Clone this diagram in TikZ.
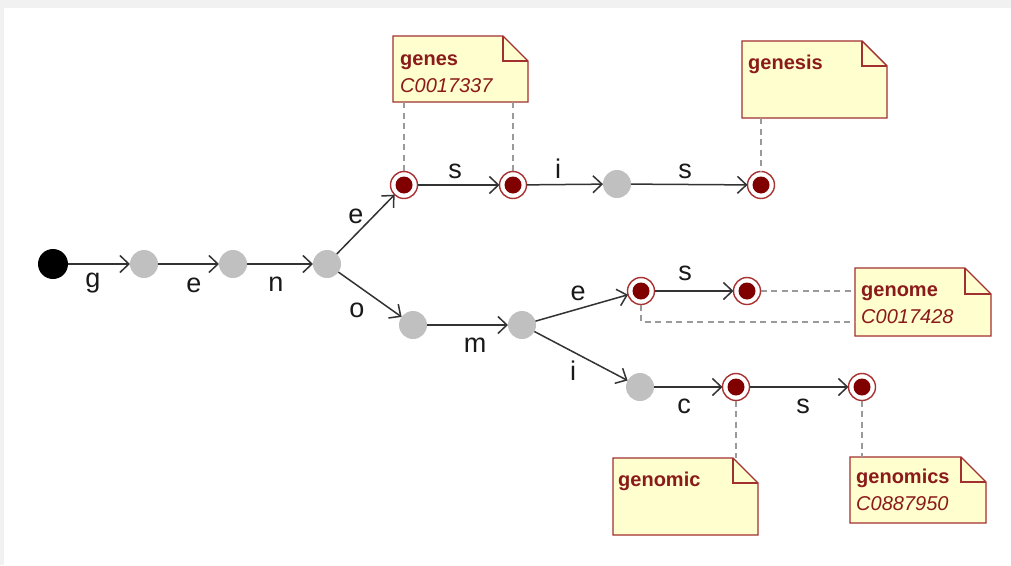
\documentclass[tikz,border=0pt]{standalone}
\usepackage{fontspec}
\setmainfont{Liberation Sans}
\usetikzlibrary{arrows.meta}
\definecolor{notefill}{HTML}{FEFECE}
\definecolor{notebord}{HTML}{A33030}
\definecolor{notetext}{HTML}{8B1A1A}
\definecolor{dotc}{HTML}{800000}
\definecolor{ringc}{HTML}{A83232}
\definecolor{grayn}{HTML}{C0C0C0}
\definecolor{edgec}{HTML}{333333}
\definecolor{dashcol}{HTML}{9A9A9A}
\definecolor{framec}{HTML}{F1F1F1}
\tikzset{
  startn/.style={circle, fill=black, minimum size=30pt, inner sep=0pt, outer sep=0pt},
  grayst/.style={circle, fill=grayn, minimum size=28pt, inner sep=0pt, outer sep=0pt},
  finalst/.style={circle, draw=ringc, line width=1.4pt, fill=white, minimum size=27pt, inner sep=0pt, outer sep=0pt,
    path picture={\fill[dotc] (path picture bounding box.center) circle (8.5pt);}},
  trans/.style={draw=edgec, line width=1.5pt, -{Straight Barb[length=9pt,width=17pt,line width=1.5pt]}},
  lbl/.style={anchor=base, inner sep=0pt, text=black!90, font=\fontsize{27}{31}\selectfont},
  notebg/.style={rectangle, inner sep=0pt, outer sep=0pt},
  noteline/.style={fill=notefill, draw=notebord, line width=1.4pt, line join=miter},
  notetitle/.style={anchor=base west, inner sep=0pt, text=notetext, font=\fontsize{20}{24}\selectfont\bfseries},
  noteid/.style={anchor=base west, inner sep=0pt, text=notetext, font=\fontsize{20}{24}\selectfont\itshape},
  dashc/.style={draw=dashcol, line width=1.2pt, dash pattern=on 6pt off 4.5pt}
}
\newcommand\drawnote[2]{%
  \filldraw[noteline] (#1.north west) -- ([xshift=-#2]#1.north east) -- ([yshift=-#2]#1.north east) -- (#1.south east) -- (#1.south west) -- cycle;
  \draw[noteline, fill=none] ([xshift=-#2]#1.north east) |- ([yshift=-#2]#1.north east);}
\begin{document}
\begin{tikzpicture}[x=1pt, y=-1pt]
\useasboundingbox (0,0) rectangle (1011,565);
\fill[framec] (0,0) rectangle (1011,565);
\fill[white] (4,8) rectangle (1011,565);

% states
\node[startn] (s0) at (53,264) {};
\node[grayst] (g1) at (144,264) {};
\node[grayst] (g2) at (233,264) {};
\node[grayst] (g3) at (327,264) {};
\node[finalst] (f1) at (404,185) {};
\node[finalst] (f2) at (513,185) {};
\node[grayst] (g4) at (617,184) {};
\node[finalst] (f3) at (761,185) {};
\node[grayst] (g5) at (413,325) {};
\node[grayst] (g6) at (522,325) {};
\node[finalst] (f4) at (641,291) {};
\node[finalst] (f5) at (747,291) {};
\node[grayst] (g7) at (640,387) {};
\node[finalst] (f6) at (736,387) {};
\node[finalst] (f7) at (862,387) {};

% notes
\node[notebg, minimum width=135pt, minimum height=66pt] (ngenes) at (460.5,69) {};
\node[notebg, minimum width=145pt, minimum height=77pt] (ngenesis) at (814.5,79.5) {};
\node[notebg, minimum width=136pt, minimum height=68pt] (ngenome) at (923,302) {};
\node[notebg, minimum width=145pt, minimum height=77pt] (ngenomic) at (685.5,496.5) {};
\node[notebg, minimum width=136pt, minimum height=66pt] (ngenomics) at (918,490) {};
\drawnote{ngenes}{25pt}
\drawnote{ngenesis}{25pt}
\drawnote{ngenome}{26pt}
\drawnote{ngenomic}{25pt}
\drawnote{ngenomics}{25pt}

\node[notetitle] (tgenes) at (400,65) {genes};
\node[noteid] (igenes) at (400,92) {C0017337};
\node[notetitle] (tgenesis) at (748,69) {genesis};
\node[notetitle] (tgenome) at (861,296) {genome};
\node[noteid] (igenome) at (861,323) {C0017428};
\node[notetitle] (tgenomic) at (618,486) {genomic};
\node[notetitle] (tgenomics) at (856,483) {genomics};
\node[noteid] (igenomics) at (856,510) {C0887950};

% note connectors
\coordinate (gj) at (855,322);
\draw[dashc] (ngenes.south -| f1) -- (f1);
\draw[dashc] (ngenes.south -| f2) -- (f2);
\draw[dashc] (ngenesis.south -| f3) -- (f3);
\draw[dashc] (f5) -- (ngenome.west |- f5);
\draw[dashc] (f4) |- (gj);
\draw[dashc] (f6) -- (ngenomic.north -| f6);
\draw[dashc] (f7) -- (ngenomics.north -| f7);

% transitions
\draw[trans] (s0) -- (g1);
\draw[trans] (g1) -- (g2);
\draw[trans] (g2) -- (g3);
\draw[trans] (g3) -- (f1);
\draw[trans] (g3) -- (g5);
\draw[trans] (f1) -- (f2);
\draw[trans] (f2) -- (g4);
\draw[trans] (g4) -- (f3);
\draw[trans] (g5) -- (g6);
\draw[trans] (g6) -- (f4);
\draw[trans] (g6) -- (g7);
\draw[trans] (f4) -- (f5);
\draw[trans] (g7) -- (f6);
\draw[trans] (f6) -- (f7);

% labels
\node[lbl] (lg) at (93,287) {g};
\node[lbl] (le1) at (194,292) {e};
\node[lbl] (ln) at (276,291) {n};
\node[lbl] (le2) at (356,223) {e};
\node[lbl] (lo) at (357,317) {o};
\node[lbl] (ls1) at (455,178) {s};
\node[lbl] (li1) at (558,178) {i};
\node[lbl] (ls2) at (685,178) {s};
\node[lbl] (lm) at (475,352) {m};
\node[lbl] (le3) at (578,300) {e};
\node[lbl] (li2) at (573,380) {i};
\node[lbl] (ls3) at (685,280) {s};
\node[lbl] (lc) at (684,413) {c};
\node[lbl] (ls4) at (803,413) {s};
\end{tikzpicture}
\end{document}
